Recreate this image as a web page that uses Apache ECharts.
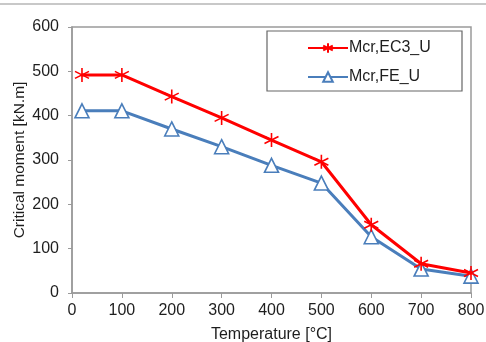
<!DOCTYPE html>
<html>
<head>
<meta charset="UTF-8">
<title>Critical moment</title>
<script src="https://cdn.jsdelivr.net/npm/echarts@6/dist/echarts.min.js"></script>
<style>
  html, body { margin: 0; padding: 0; background: #fff; }
  #chart { width: 486px; height: 342px; }
</style>
</head>
<body>
<div id="chart"></div>
<script>
// data
var temps = [20, 100, 200, 300, 400, 500, 600, 700, 800];
var mcrEC3 = [492, 492, 443, 395, 345, 296, 154, 66, 45];
var mcrFE = [411, 411, 370, 330, 288, 248, 127, 54, 38];
var seriesNames = ['Mcr,EC3_U', 'Mcr,FE_U'];

function pairs(xs, ys) {
    var out = [];
    for (var i = 0; i < xs.length; i++) out.push([xs[i], ys[i]]);
    return out;
}

var starPath = 'path://M0,-10L0,10M-8.66,-5L8.66,5M-8.66,5L8.66,-5';
var font = 'Liberation Sans';
var txt = '#1e1e1e';

var chart = echarts.init(document.getElementById('chart'));
var option = {
    animation: false,
    grid: {
        left: 72, right: 15, top: 27, bottom: 49,
        outerBoundsMode: 'none',
        show: true, borderColor: '#9a9a9a', borderWidth: 1.5
    },
    graphic: [
        { type: 'line', shape: { x1: 0, y1: 4, x2: 486, y2: 4 },
          style: { stroke: '#c8c8c8', lineWidth: 2 } },
        { type: 'rect', shape: { x: 267, y: 31, width: 195, height: 60 },
          style: { fill: '#fff', stroke: '#666', lineWidth: 1.2 }, z: 5 }
    ],
    legend: {
        data: seriesNames,
        orient: 'vertical',
        left: 302, top: 35,
        itemWidth: 40, itemHeight: 12, itemGap: 13,
        textStyle: { fontFamily: font, fontSize: 16, lineHeight: 16, color: txt, padding: [0, 0, 0, -4] },
        z: 6
    },
    xAxis: {
        type: 'value', min: 0, max: 800, interval: 100,
        name: 'Temperature [°C]', nameLocation: 'middle', nameGap: 34,
        nameMoveOverlap: false,
        nameTextStyle: { fontFamily: font, fontSize: 16, color: txt },
        axisLine: { lineStyle: { color: '#9a9a9a', width: 1.5 } },
        axisTick: { show: true, length: 5, lineStyle: { color: '#9a9a9a' } },
        axisLabel: { fontFamily: font, fontSize: 16, color: txt, margin: 10 },
        splitLine: { show: false }
    },
    yAxis: {
        type: 'value', min: 0, max: 600, interval: 100,
        name: 'Critical moment [kN.m]', nameLocation: 'middle', nameGap: 44,
        nameMoveOverlap: false,
        nameTextStyle: { fontFamily: font, fontSize: 15.5, color: txt },
        axisLine: { show: true, lineStyle: { color: '#9a9a9a', width: 1.5 } },
        axisTick: { show: true, length: 4, lineStyle: { color: '#9a9a9a' } },
        axisLabel: { fontFamily: font, fontSize: 16, color: txt, margin: 13 },
        splitLine: { show: false }
    },
    series: [
        {
            name: seriesNames[0], type: 'line',
            data: pairs(temps, mcrEC3),
            symbol: starPath, symbolSize: 14,
            lineStyle: { color: '#ff0000', width: 3 },
            itemStyle: { color: 'none', borderColor: '#ff0000', borderWidth: 1.6 },
            z: 3
        },
        {
            name: seriesNames[1], type: 'line',
            data: pairs(temps, mcrFE),
            symbol: 'triangle', symbolSize: 14,
            lineStyle: { color: '#4a7ebb', width: 3 },
            itemStyle: { color: '#fff', borderColor: '#4a7ebb', borderWidth: 1.6 },
            z: 2
        }
    ]
};
chart.setOption(option);
</script>
</body>
</html>
